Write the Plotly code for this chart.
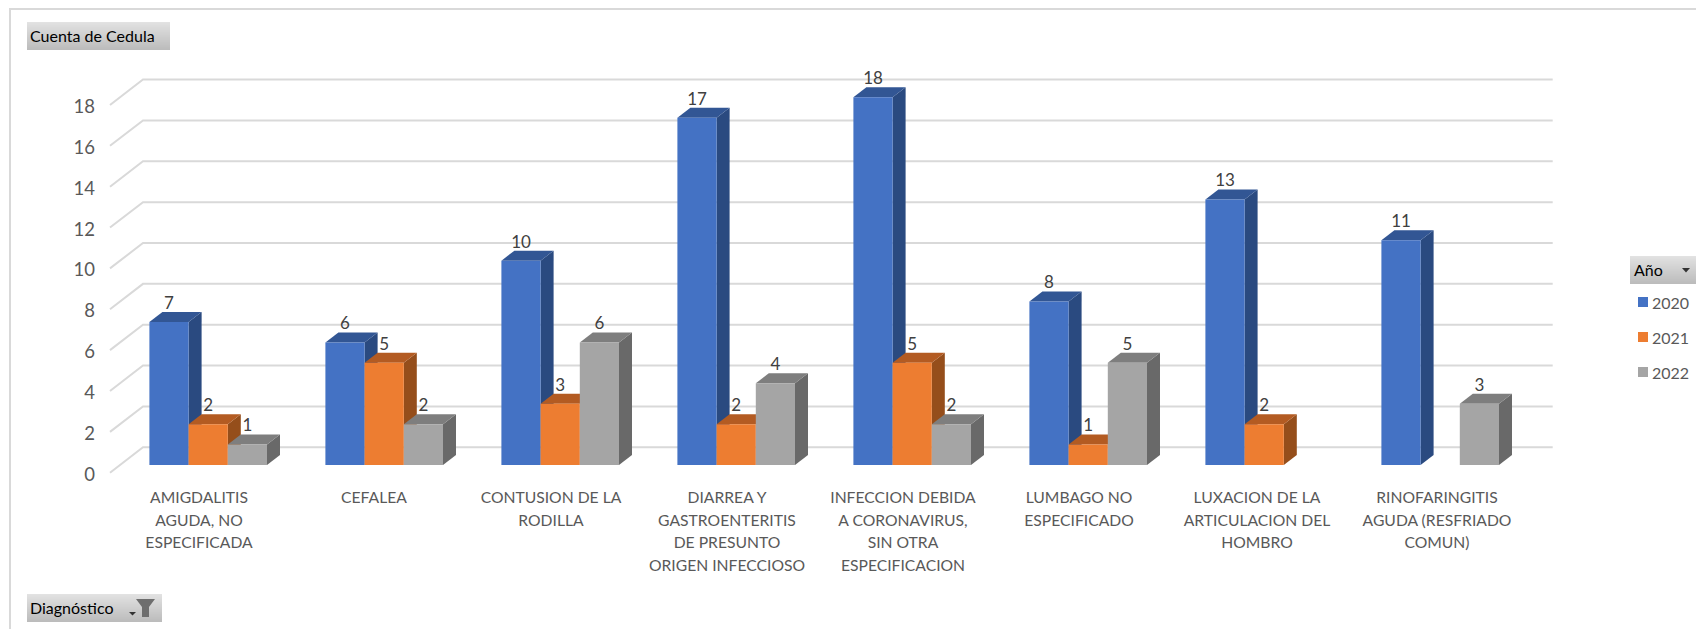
import plotly.graph_objects as go

# ---------- data ----------
categories = [
    "AMIGDALITIS|AGUDA, NO|ESPECIFICADA",
    "CEFALEA",
    "CONTUSION DE LA|RODILLA",
    "DIARREA Y|GASTROENTERITIS|DE PRESUNTO|ORIGEN INFECCIOSO",
    "INFECCION DEBIDA|A CORONAVIRUS,|SIN OTRA|ESPECIFICACION",
    "LUMBAGO NO|ESPECIFICADO",
    "LUXACION DE LA|ARTICULACION DEL|HOMBRO",
    "RINOFARINGITIS|AGUDA (RESFRIADO|COMUN)",
]
years = ["2020", "2021", "2022"]
v2020 = [7, 6, 10, 17, 18, 8, 13, 11]
v2021 = [2, 5, 3, 2, 5, 1, 2, None]
v2022 = [1, 2, 6, 4, 2, 5, None, 3]
y_ticks = [0, 2, 4, 6, 8, 10, 12, 14, 16, 18]

series_values = [v2020, v2021, v2022]
front_colors = ["#4472C4", "#ED7D31", "#A5A5A5"]
top_colors = ["#325694", "#B35B22", "#7E7E7E"]
side_colors = ["#2A4A80", "#954E1B", "#696969"]

# ---------- canvas geometry ----------
W, H = 1696, 629
PX_PER_UNIT_Y = 20.43
PX_PER_CAT = 176.0
BASE_PX = 465.0          # pixel row of value 0 on the bar front plane
CAT0_PX = 208.2          # pixel column of the first group's centre
BAR_W = 39.2 / PX_PER_CAT
DEPTH_X = 13.0 / PX_PER_CAT
DEPTH_Y = 10.0 / PX_PER_UNIT_Y
WALL_FRONT_PX = 472.7    # pixel row of value 0 at the front of the side wall
TICK_NUDGE = 1.6 / PX_PER_UNIT_Y  # tick labels sit slightly below the wall's front edge
WALL_SHIFT = (WALL_FRONT_PX - BASE_PX) / PX_PER_UNIT_Y + TICK_NUDGE
WALL_RISE = 25.4 / PX_PER_UNIT_Y
WALL_X0 = (110 - CAT0_PX) / PX_PER_CAT
WALL_X1 = (143 - CAT0_PX) / PX_PER_CAT
WALL_X2 = (1552.7 - CAT0_PX) / PX_PER_CAT

x_range = [(0 - CAT0_PX) / PX_PER_CAT, (W - CAT0_PX) / PX_PER_CAT]
bar_y_range = [(BASE_PX - H) / PX_PER_UNIT_Y, BASE_PX / PX_PER_UNIT_Y]
wall_y_range = [bar_y_range[0] + WALL_SHIFT, bar_y_range[1] + WALL_SHIFT]


def fx(px):
    return px / W


def fy(px):
    return 1 - px / H


FONT = "Lato, Carlito, Calibri, sans-serif"
fig = go.Figure()

# ---------- wall gridlines (on the tick-label axis) ----------
gx, gy = [], []
for t in y_ticks:
    gx += [WALL_X0, WALL_X1, WALL_X2, None]
    gy += [t + TICK_NUDGE, t + TICK_NUDGE + WALL_RISE, t + TICK_NUDGE + WALL_RISE, None]
fig.add_trace(go.Scatter(x=gx, y=gy, mode="lines", line=dict(color="#D9D9D9", width=2),
                         hoverinfo="skip", showlegend=False, yaxis="y"))

# ---------- bars with depth faces ----------
for s, vals in enumerate(series_values):
    off = (s - 1.5) * BAR_W
    for i, v in enumerate(vals):
        if v is None:
            continue
        x0, x1 = i + off, i + off + BAR_W
        fig.add_trace(go.Scatter(
            x=[x1, x1 + DEPTH_X, x1 + DEPTH_X, x1, x1],
            y=[0, DEPTH_Y, v + DEPTH_Y, v, 0],
            mode="lines", fill="toself", fillcolor=side_colors[s], line=dict(width=0),
            hoverinfo="skip", showlegend=False, yaxis="y2", zorder=2 * s + 1))
        fig.add_trace(go.Scatter(
            x=[x0, x0 + DEPTH_X, x1 + DEPTH_X, x1, x0],
            y=[v, v + DEPTH_Y, v + DEPTH_Y, v, v],
            mode="lines", fill="toself", fillcolor=top_colors[s], line=dict(width=0),
            hoverinfo="skip", showlegend=False, yaxis="y2", zorder=2 * s + 1))
    fig.add_trace(go.Bar(
        x=list(range(len(categories))), y=vals, name=years[s], width=BAR_W, offset=off,
        marker=dict(color=front_colors[s], line=dict(width=0)),
        yaxis="y2", showlegend=False, zorder=2 * s + 2))

# ---------- value labels ----------
for s, vals in enumerate(series_values):
    off = (s - 1) * BAR_W
    lx = [i + off for i, v in enumerate(vals) if v is not None]
    ly = [v + 0.85 for v in vals if v is not None]
    lt = [str(v) for v in vals if v is not None]
    fig.add_trace(go.Scatter(x=lx, y=ly, text=lt, mode="text", textposition="middle center",
                             textfont=dict(family=FONT, size=17, color="#404040"),
                             hoverinfo="skip", showlegend=False, yaxis="y2", zorder=8))

# ---------- category labels, one text point per line ----------
LABEL_SHIFT = (199 - CAT0_PX) / PX_PER_CAT
LABEL_NUDGE_PX = [0, -1, 0, 0, 0, 0, 2, 6]
FIRST_LINE = -(499.5 - BASE_PX) / PX_PER_UNIT_Y
LINE_STEP = 22.5 / PX_PER_UNIT_Y
cx, cy, ct = [], [], []
for i, cat in enumerate(categories):
    for k, line in enumerate(cat.split("|")):
        cx.append(i + LABEL_SHIFT + LABEL_NUDGE_PX[i] / PX_PER_CAT)
        cy.append(FIRST_LINE - k * LINE_STEP)
        ct.append(line)
fig.add_trace(go.Scatter(x=cx, y=cy, text=ct, mode="text", textposition="middle center",
                         textfont=dict(family=FONT, size=15.7, color="#595959"),
                         hoverinfo="skip", showlegend=False, yaxis="y2", zorder=8))

# ---------- chrome: frame, field buttons, legend ----------
shapes = []
annotations = []

def rect(x0, y0, x1, y1, color):
    shapes.append(dict(type="rect", xref="paper", yref="paper", x0=fx(x0), x1=fx(x1),
                       y0=fy(y0), y1=fy(y1), fillcolor=color, line=dict(width=0), layer="above"))

def button(x0, y0, x1, y1, text, tx):
    n = int(y1 - y0)
    for r in range(n):
        t = r / max(n - 1, 1)
        c = int(226 - (226 - 188) * t)
        rect(x0, y0 + r, x1, y0 + r + 1, f"rgb({c},{c},{c})")
    annotations.append(dict(xref="paper", yref="paper", x=fx(tx), y=fy((y0 + y1) / 2), text=text,
                            showarrow=False, xanchor="left", yanchor="middle", xshift=-3, yshift=1,
                            font=dict(family=FONT, size=16, color="#000000")))

def path(points, color):
    d = "M" + "L".join(f"{fx(a):.5f},{fy(b):.5f}" for a, b in points) + "Z"
    shapes.append(dict(type="path", xref="paper", yref="paper", path=d, fillcolor=color,
                       line=dict(width=0), layer="above"))

# frame
rect(9, 8, W, 10, "#D9D9D9")
rect(9, 8, 11, H, "#D9D9D9")

button(27, 22, 170, 50, "Cuenta de Cedula", 31)
button(27, 594, 162, 622, "Diagnóstico", 31)
button(1630, 256, 1696, 284, "Año", 1635)

# drop-down carets and filter funnel
path([(129, 612), (136, 612), (132.5, 615.5)], "#333333")
path([(136, 599), (155, 599), (149, 607), (149, 617), (142, 617), (142, 607)], "#6E6E6E")
path([(1682, 268), (1690, 268), (1686, 272.5)], "#333333")

# legend
for k, (yr, col) in enumerate(zip(years, front_colors)):
    yc = 302 + 35 * k
    rect(1638, yc - 5, 1648, yc + 5, col)
    annotations.append(dict(xref="paper", yref="paper", x=fx(1653), y=fy(yc), text=yr,
                            showarrow=False, xanchor="left", yanchor="middle", xshift=-3,
                            font=dict(family=FONT, size=16, color="#595959")))

fig.update_layout(
    width=W, height=H, autosize=False,
    margin=dict(l=0, r=0, t=0, b=0), paper_bgcolor="#FFFFFF", plot_bgcolor="#FFFFFF",
    barmode="overlay", showlegend=False, shapes=shapes, annotations=annotations,
    xaxis=dict(range=x_range, visible=False, domain=[0, 1], fixedrange=True),
    yaxis=dict(range=wall_y_range, domain=[0, 1], tickmode="array", tickvals=y_ticks,
               ticktext=[str(t) for t in y_ticks], showgrid=False, zeroline=False,
               showline=False, ticks="", anchor="free", position=fx(95), side="left",
               tickfont=dict(family=FONT, size=18.5, color="#595959"), fixedrange=True),
    yaxis2=dict(range=bar_y_range, overlaying="y", visible=False, fixedrange=True),
)
fig.write_html("out.html", config=dict(displayModeBar=False),
               post_script="document.body.style.margin='0';document.body.style.overflow='hidden';")
